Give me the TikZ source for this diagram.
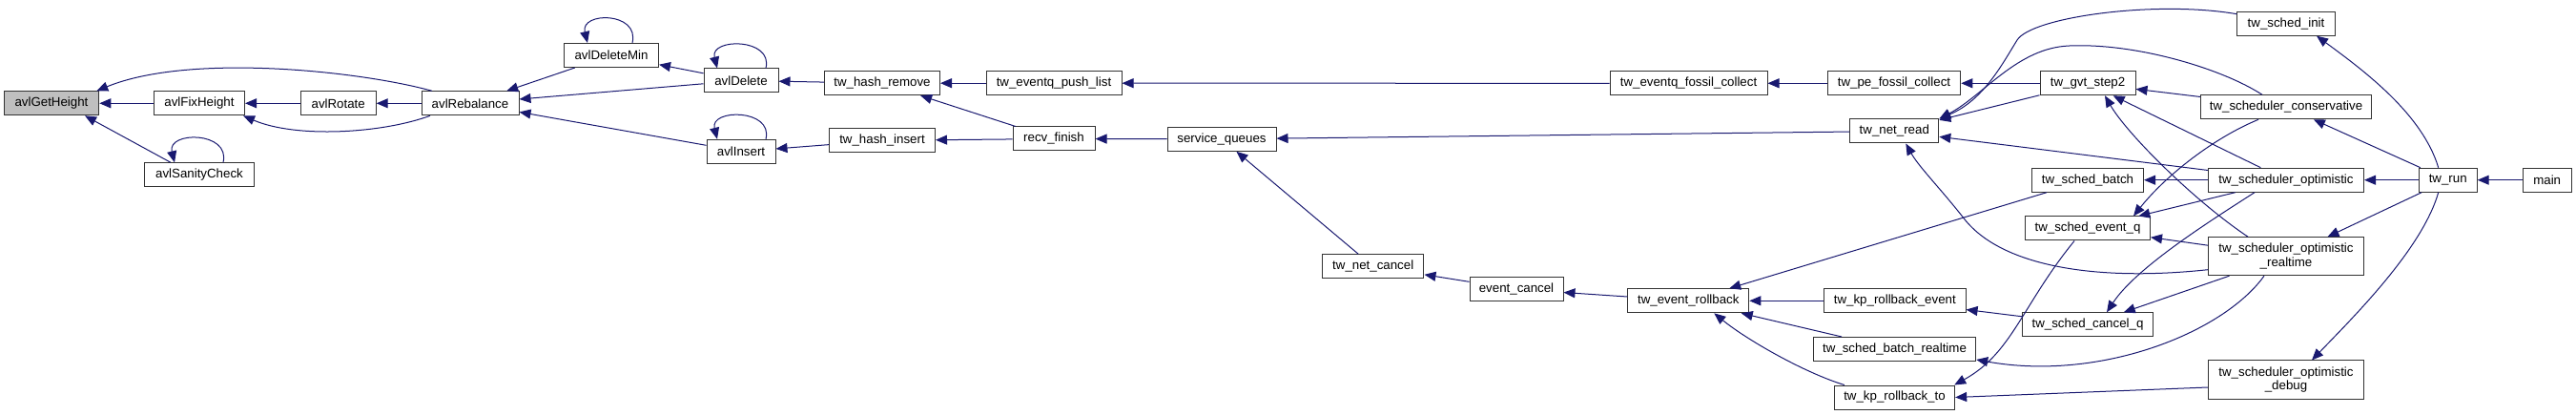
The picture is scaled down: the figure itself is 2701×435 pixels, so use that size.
\documentclass[tikz,border=0pt]{standalone}
\usepackage{fontspec}
\setmainfont{Liberation Sans}
\usetikzlibrary{arrows.meta,calc}
\definecolor{edgeblue}{RGB}{25,25,112}
\definecolor{focusgray}{RGB}{191,191,191}
\tikzset{
  fn/.style={draw=black!80,line width=1pt,fill=white,minimum height=25pt,inner sep=0pt,
             align=center,font=\fontsize{13.3}{14.5}\selectfont},
  fntwo/.style={fn,minimum height=40pt},
  focus/.style={fn,fill=focusgray},
  call/.style={edgeblue,line width=1pt,-{Triangle[length=12pt,width=10pt]}},
}

\begin{document}
\begin{tikzpicture}[x=1pt,y=-1pt]
  \path[use as bounding box] (0,0) rectangle (2701,435);

  % functions, placed at pixel positions
  \node[focus,minimum width=99.5] (getheight) at (54,108.3) {avlGetHeight};
  \foreach \id/\xx/\yy/\ww/\txt in {
    fixheight/209/108.3/95/avlFixHeight,
    rotate/354.7/108.3/79/avlRotate,
    rebalance/493/108.3/102/avlRebalance,
    sanitycheck/209/183.3/115/avlSanityCheck,
    deletemin/641/58/99/avlDeleteMin,
    avldelete/777/84.5/78/avlDelete,
    avlinsert/777/158.8/72/avlInsert,
    hashremove/925/87.2/121/tw\_hash\_remove,
    hashinsert/925/147.3/111/tw\_hash\_insert,
    pushlist/1105/87.2/142/tw\_eventq\_push\_list,
    recvfinish/1105/145.5/86/recv\_finish,
    servicequeues/1281/145.8/114/service\_queues,
    netcancel/1439.7/279.3/106.5/tw\_net\_cancel,
    eventcancel/1590/303.2/98/event\_cancel,
    eventrollback/1770.3/315.3/127/tw\_event\_rollback,
    fossilcollect/1770.5/87.3/165/tw\_eventq\_fossil\_collect,
    pefossil/1986/87.3/139.5/tw\_pe\_fossil\_collect,
    netread/1986.3/137.5/93/tw\_net\_read,
    kprollbackevent/1986.8/315.3/148.5/tw\_kp\_rollback\_event,
    batchrealtime/1986.5/366/170.4/tw\_sched\_batch\_realtime,
    kprollbackto/1986.5/416.5/126.3/tw\_kp\_rollback\_to,
    gvtstep/2189/87.3/100/tw\_gvt\_step2,
    schedbatch/2189/188.7/117/tw\_sched\_batch,
    eventq/2189/239.5/131/tw\_sched\_event\_q,
    cancelq/2189/340.3/137/tw\_sched\_cancel\_q,
    schedinit/2397/24.7/102.5/tw\_sched\_init,
    conservative/2397/112.3/179/tw\_scheduler\_conservative,
    optimistic/2397/188.7/163/tw\_scheduler\_optimistic,
    twrun/2566.7/188.7/61/tw\_run,
    mainfn/2670.7/188.7/51/main}{
    \node[fn,minimum width=\ww] (\id) at (\xx,\yy) {\txt};
  }
  \node[fntwo,minimum width=163] (realtime) at (2397,268.7)
    {tw\_scheduler\_optimistic\\\_realtime};
  \node[fntwo,minimum width=163] (debug) at (2397,398)
    {tw\_scheduler\_optimistic\\\_debug};

  % straight calls, caller to callee
  \foreach \src/\dst in {
    fixheight/getheight, rotate/fixheight, rebalance/rotate,
    deletemin/rebalance, avldelete/rebalance, avlinsert/rebalance,
    avldelete/deletemin, hashremove/avldelete, hashinsert/avlinsert,
    pushlist/hashremove, recvfinish/hashremove, recvfinish/hashinsert,
    fossilcollect/pushlist, servicequeues/recvfinish, pefossil/fossilcollect,
    netread/servicequeues, netcancel/servicequeues, gvtstep/pefossil,
    gvtstep/netread, optimistic/netread, conservative/gvtstep,
    optimistic/gvtstep, twrun/conservative, twrun/optimistic,
    twrun/realtime, mainfn/twrun, optimistic/schedbatch,
    optimistic/eventq, realtime/eventq, realtime/cancelq,
    cancelq/kprollbackevent, kprollbackevent/eventrollback,
    schedbatch/eventrollback, batchrealtime/eventrollback,
    eventrollback/eventcancel, eventcancel/netcancel}{
    \draw[call] (\src) -- (\dst);
  }
  \draw[call] ($(sanitycheck.north)+(-30,0)$) -- ($(getheight.south)+(35,0)$);
  \draw[call] ($(debug.west)+(0,8)$) -- (kprollbackto.east);

  % bent calls
  \draw[call] ($(rebalance.north)+(-40,0)$) .. controls (380,75) and (200,55)
    .. ($(getheight.north east)+(-3,0)$);
  \draw[call] ($(rebalance.south)+(-42,0)$) .. controls (400,140) and (310,145)
    .. ($(fixheight.south east)+(-2,0)$);
  \draw[call] ($(schedinit.west)+(0,-10)$) .. controls (2260,0) and (2130,18)
    .. (2115,42) .. controls (2100,66) and (2080,105) .. (netread.north east);
  \draw[call] ($(conservative.north)+(-25,0)$) .. controls (2330,72) and (2240,45)
    .. (2170,48) .. controls (2115,50) and (2080,100) .. (netread.north east);
  \draw[call] ($(realtime.west)+(0,14)$) .. controls (2200,295) and (2100,280)
    .. (2060,230) .. controls (2035,198) and (2012,175) .. ($(netread.south)+(12,0)$);
  \draw[call] ($(realtime.north)+(-40,0)$) .. controls (2300,210) and (2230,140)
    .. ($(gvtstep.south)+(18,0)$);
  \draw[call] ($(twrun.north)+(-10,0)$) .. controls (2540,120) and (2480,75)
    .. ($(schedinit.south)+(32,0)$);
  \draw[call] ($(twrun.south)+(-10,0)$) .. controls (2540,260) and (2470,330)
    .. ($(debug.north)+(27,0)$);
  \draw[call] ($(conservative.south)+(-29,0)$) .. controls (2320,145) and (2270,185)
    .. ($(eventq.north)+(48,0)$);
  \draw[call] ($(optimistic.south)+(-33,0)$) .. controls (2320,230) and (2240,280)
    .. ($(cancelq.north)+(20,0)$);
  \draw[call] ($(realtime.south)+(-23,0)$) .. controls (2330,350) and (2200,400)
    .. ($(batchrealtime.south east)+(0,-2)$);
  \draw[call] ($(eventq.south)+(-14,0)$) .. controls (2120,320) and (2110,370)
    .. ($(kprollbackto.north east)+(-1,0)$);
  \draw[call] ($(kprollbackto.north west)+(11,0)$) .. controls (1890,390) and (1830,355)
    .. ($(eventrollback.south)+(27,0)$);

  % recursive calls
  \draw[call] ($(deletemin.north)+(22,0)$) .. controls +(8,-33) and +(-8,-33)
    .. ($(deletemin.north)+(-25,0)$);
  \draw[call] ($(avldelete.north)+(26,0)$) .. controls +(8,-32) and +(-8,-32)
    .. ($(avldelete.north)+(-25,0)$);
  \draw[call] ($(avlinsert.north)+(26,0)$) .. controls +(8,-32) and +(-8,-32)
    .. ($(avlinsert.north)+(-25,0)$);
  \draw[call] ($(sanitycheck.north)+(25,0)$) .. controls +(8,-33) and +(-8,-33)
    .. ($(sanitycheck.north)+(-26,0)$);
\end{tikzpicture}
\end{document}
